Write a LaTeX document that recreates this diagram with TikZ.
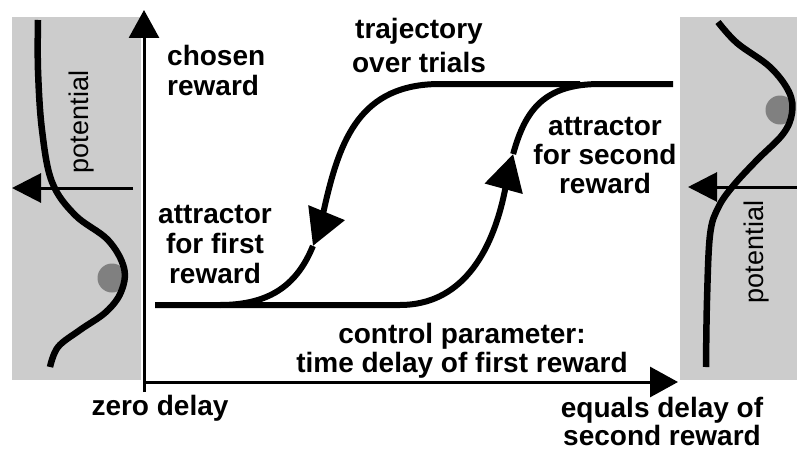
\documentclass[tikz,border=0pt]{standalone}
\usepackage{fontspec}
\setmainfont{Liberation Sans}
\usetikzlibrary{arrows.meta}
\definecolor{panelgray}{HTML}{CCCCCC}
\definecolor{ballgray}{HTML}{808080}
\begin{document}
\begin{tikzpicture}[x=1pt,y=-1pt,
  axisline/.style={line width=3pt, -{Triangle[length=28pt,width=30pt]}},
  potarrow/.style={line width=3pt, -{Triangle[length=29pt,width=29pt]}},
  potcurve/.style={line width=6.5pt},
  traj/.style={line width=6pt},
  trajarrow/.style={traj, -{Triangle[length=36pt,width=38pt]}},
  lbl/.style={font=\bfseries\fontsize{28}{30}\selectfont, inner sep=0pt, align=center},
  potlbl/.style={font=\fontsize{27}{30}\selectfont, inner sep=0pt, rotate=90, anchor=base},
  ball/.style={fill=ballgray, draw=none}]
\useasboundingbox (0,0) rectangle (797,452);

% side panels with the potential landscapes
\fill[panelgray] (12,17) rectangle (141,380);
\fill[panelgray] (680,17) rectangle (797,380);

\fill[ball] (112,278) circle (14.5);
\fill[ball] (780,110) circle (14.5);

\draw[potcurve] plot[smooth, tension=0.6] coordinates {(38,20) (38,70) (42,130) (52,182) (75,215) (108,240) (124,268) (121,292) (106,312) (80,330) (58,347) (50,367)};
\draw[potcurve] plot[smooth, tension=0.6] coordinates {(718,22) (737,43) (770,67) (789,92) (792,113) (783,134) (757,160) (733,186) (718,208) (710,235) (707,300) (706,367)};

\coordinate (lpotA) at (133,188);
\coordinate (lpotB) at (12,188);
\coordinate (rpotA) at (797,187);
\coordinate (rpotB) at (688,187);
\draw[potarrow] (lpotA) -- (lpotB);
\draw[potarrow] (rpotA) -- (rpotB);

\node[potlbl] (lpot) at (88,122) {potential};
\node[potlbl] (rpot) at (763,252) {potential};

% axes
\coordinate (origin) at (144,392);
\coordinate (ytip) at (144,10);
\coordinate (xstart) at (144,382);
\coordinate (xtip) at (678,382);
\draw[axisline] (origin) -- (ytip);
\draw[axisline] (xstart) -- (xtip);

% branch leaving the upper attractor
\coordinate (Ltop) at (580,84);
\coordinate (Lstart) at (440,84);
\coordinate (Lmid) at (325,205);
\coordinate (Ltip) at (312.95,245.94);
\coordinate (Lend) at (220,305);
\draw[trajarrow] (Ltop) -- (Lstart) .. controls (360,84) and (340,140) .. (Lmid)
  .. controls (321.75,220) and (317.94,233.75) .. (Ltip);
\draw[traj] (Ltip) .. controls (298,282.5) and (272.5,305) .. (Lend);

% branch leaving the lower attractor
\coordinate (Bstart) at (155,305);
\coordinate (Rbend) at (400,305);
\coordinate (Rmid) at (505,190);
\coordinate (Rtip) at (513.15,154.02);
\coordinate (Rtop) at (600,84);
\coordinate (Tend) at (673,84);
\draw[trajarrow] (Bstart) -- (Rbend) .. controls (460,305) and (492,255) .. (Rmid)
  .. controls (507.6,177) and (510.16,164.96) .. (Rtip);
\draw[traj] (Rtip) .. controls (525.12,110.24) and (544,84) .. (Rtop) -- (Tend);

% labels (base anchor sits on the last line)
\node[lbl, align=left, anchor=base west] (chosen) at (167,95) {chosen\\reward};
\node[lbl, anchor=base, font=\bfseries\fontsize{28}{33}\selectfont] (traject) at (419,72) {trajectory\\over trials};
\node[lbl, anchor=base, font=\bfseries\fontsize{28}{29}\selectfont] (attsecond) at (605,193) {attractor\\for second\\reward};
\node[lbl, anchor=base] (attfirst) at (215,283) {attractor\\for first\\reward};
\node[lbl, anchor=base, font=\bfseries\fontsize{28}{29}\selectfont] (control) at (462,372) {control parameter:\\time delay of first reward};
\node[lbl, anchor=base] (zero) at (160,415) {zero delay};
\node[lbl, anchor=base, font=\bfseries\fontsize{28}{28}\selectfont] (equals) at (662,445) {equals delay of\\second reward};
\end{tikzpicture}
\end{document}
